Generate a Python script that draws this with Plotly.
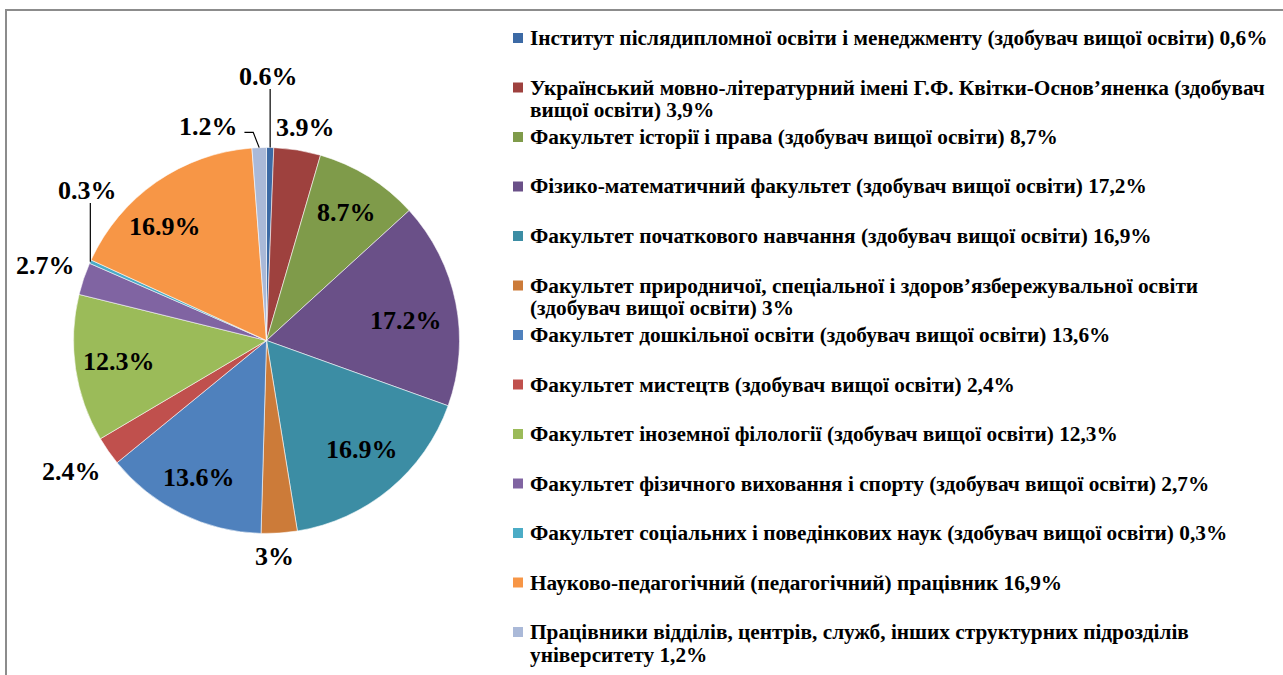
import math
import plotly.graph_objects as go

# ---------------- data ----------------
categories = [
    "Інститут післядипломної освіти і менеджменту (здобувач вищої освіти)",
    "Український мовно-літературний імені Г.Ф. Квітки-Основ’яненка (здобувач вищої освіти)",
    "Факультет історії і права (здобувач вищої освіти)",
    "Фізико-математичний факультет (здобувач вищої освіти)",
    "Факультет початкового навчання (здобувач вищої освіти)",
    "Факультет природничої, спеціальної і здоров’язбережувальної освіти (здобувач вищої освіти)",
    "Факультет дошкільної освіти (здобувач вищої освіти)",
    "Факультет мистецтв (здобувач вищої освіти)",
    "Факультет іноземної філології (здобувач вищої освіти)",
    "Факультет фізичного виховання і спорту (здобувач вищої освіти)",
    "Факультет соціальних і поведінкових наук (здобувач вищої освіти)",
    "Науково-педагогічний (педагогічний) працівник",
    "Працівники відділів, центрів, служб, інших структурних підрозділів університету",
]
values = [0.6, 3.9, 8.7, 17.2, 16.9, 3, 13.6, 2.4, 12.3, 2.7, 0.3, 16.9, 1.2]

# legend text, one list of lines per entry (line breaks as in the original)
legend_lines = [
    ["Інститут післядипломної освіти і менеджменту (здобувач вищої освіти) 0,6%"],
    ["Український мовно-літературний імені Г.Ф. Квітки-Основ’яненка (здобувач",
     "вищої освіти) 3,9%"],
    ["Факультет історії і права (здобувач вищої освіти) 8,7%"],
    ["Фізико-математичний факультет (здобувач вищої освіти) 17,2%"],
    ["Факультет початкового навчання (здобувач вищої освіти) 16,9%"],
    ["Факультет природничої, спеціальної і здоров’язбережувальної освіти",
     "(здобувач вищої освіти) 3%"],
    ["Факультет дошкільної освіти (здобувач вищої освіти) 13,6%"],
    ["Факультет мистецтв (здобувач вищої освіти) 2,4%"],
    ["Факультет іноземної філології (здобувач вищої освіти) 12,3%"],
    ["Факультет фізичного виховання і спорту (здобувач вищої освіти) 2,7%"],
    ["Факультет соціальних і поведінкових наук (здобувач вищої освіти) 0,3%"],
    ["Науково-педагогічний (педагогічний) працівник 16,9%"],
    ["Працівники відділів, центрів, служб, інших структурних підрозділів",
     "університету 1,2%"],
]

# ---------------- style ----------------
colors = ["#3C6AA5", "#9E413E", "#7F9B4A", "#6A5088", "#3C8DA4", "#CC7B39",
          "#4F81BD", "#C0504D", "#9BBB59", "#8064A2", "#4BACC6", "#F79646", "#AAB9D8"]
# radial position of each data label (fraction of radius) and angular shift (deg)
label_radius = [1.37, 1.12, 0.78, 0.73, 0.75, 1.12, 0.79, 1.22, 0.77, 1.21, 1.21, 0.79, 1.15]
label_shift = [-0.7, 1.3, 0, 3.3, -1.4, 1.8, 0, 1, 0.4, 0, 16, -6.8, -13]
leader = {0: "v", 10: "v", 12: "elbow"}

W, H = 1283, 675
CX, CY, R = 266.5, 340.5, 193.0
SERIF = "Liberation Serif, Tinos, Times New Roman, serif"
LBL_FONT = 26
LEG_FONT = 21.3
LEG_X_SQ, LEG_SQ, LEG_X_TXT, LEG_Y0, LEG_STEP, LEG_LINE = 513, 10, 528, 38, 49.5, 22.5


def px(x):
    return x / W


def py(y):
    return 1 - y / H


fig = go.Figure(go.Pie(
    labels=categories,
    values=values,
    sort=False,
    direction="clockwise",
    rotation=0,
    marker=dict(colors=colors, line=dict(color="rgba(255,255,255,0.7)", width=0.8)),
    textinfo="none",
    hoverinfo="label+value",
    showlegend=False,
    domain=dict(x=[px(CX - R), px(CX + R)], y=[py(CY + R), py(CY - R)]),
))

annotations = []
shapes = []
total = sum(values)
cum = 0.0
for i, v in enumerate(values):
    mid = (cum + v / 2) / total * 360.0
    cum += v
    ang = math.radians(mid + label_shift[i])
    lx = CX + R * label_radius[i] * math.sin(ang)
    ly = CY - R * label_radius[i] * math.cos(ang)
    annotations.append(dict(
        x=px(lx), y=py(ly), xref="paper", yref="paper",
        text=f"<b>{v:g}%</b>", showarrow=False, xanchor="center", yanchor="middle",
        font=dict(family=SERIF, size=LBL_FONT, color="black"),
    ))
    if i in leader:
        ma = math.radians(mid)
        ex = CX + R * math.sin(ma)
        ey = CY - R * math.cos(ma)
        if leader[i] == "v":
            path = f"M {px(ex)} {py(ey)} L {px(ex)} {py(ly + 13)}"
        else:
            path = (f"M {px(ex)} {py(ey)} L {px(ex - 6)} {py(ly + 6)} "
                    f"L {px(lx + 36)} {py(ly + 6)}")
        shapes.append(dict(type="path", xref="paper", yref="paper", path=path,
                           line=dict(color="black", width=1.2)))

# custom legend
for i, lines in enumerate(legend_lines):
    yc = LEG_Y0 + LEG_STEP * i
    shapes.append(dict(type="rect", xref="paper", yref="paper",
                       x0=px(LEG_X_SQ), x1=px(LEG_X_SQ + LEG_SQ),
                       y0=py(yc + LEG_SQ / 2), y1=py(yc - LEG_SQ / 2),
                       fillcolor=colors[i], line=dict(width=0)))
    for j, line in enumerate(lines):
        annotations.append(dict(
            x=px(LEG_X_TXT), y=py(yc + j * LEG_LINE), xref="paper", yref="paper",
            text=f"<b>{line}</b>",
            showarrow=False, xanchor="left", yanchor="middle", align="left",
            font=dict(family=SERIF, size=LEG_FONT, color="black"),
        ))

# chart frame
shapes.append(dict(type="rect", xref="paper", yref="paper",
                   x0=px(6), x1=1.02, y0=-0.02, y1=py(10),
                   line=dict(color="#8C8C8C", width=2), fillcolor="rgba(0,0,0,0)"))

fig.update_layout(
    width=W, height=H,
    margin=dict(l=0, r=0, t=0, b=0),
    paper_bgcolor="white",
    plot_bgcolor="white",
    annotations=annotations,
    shapes=shapes,
)

fig.write_html(
    "out.html",
    config={"displayModeBar": False},
    post_script="document.body.style.margin='0';document.body.style.overflow='hidden';",
)
